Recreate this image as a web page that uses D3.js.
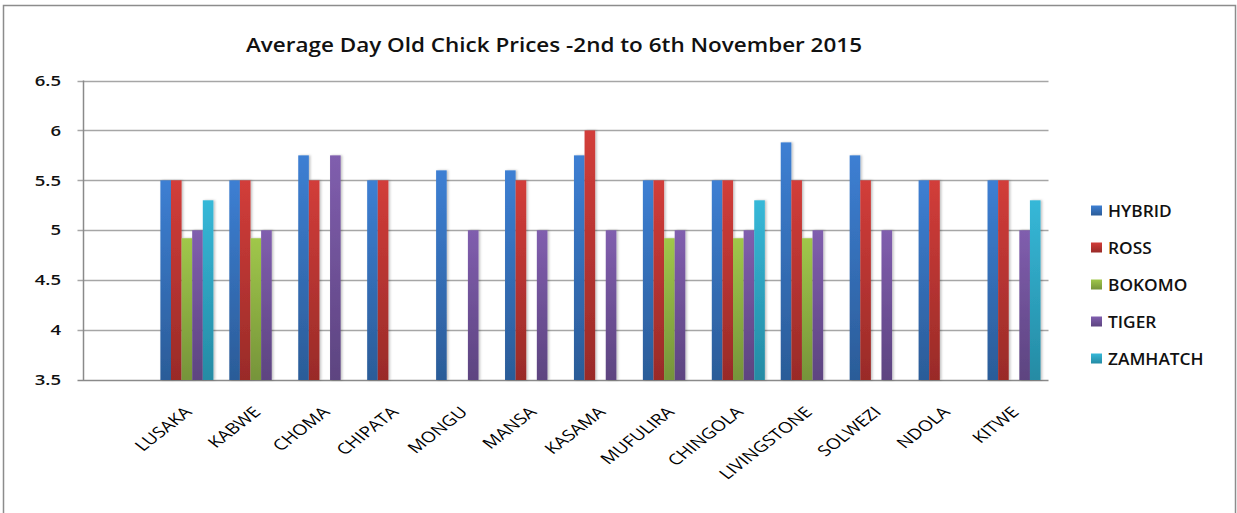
<!DOCTYPE html>
<html>
<head>
<meta charset="utf-8">
<script src="https://cdn.jsdelivr.net/npm/d3@7"></script>
<style>
  body { margin: 0; background: #fff; }
  svg { display: block; font-family: "Open Sans", "DejaVu Sans", sans-serif; }
</style>
</head>
<body>
<div id="chart"></div>
<script>
// Chart data (first category is an empty slot, as in the original)
const cities = ['', 'LUSAKA', 'KABWE', 'CHOMA', 'CHIPATA', 'MONGU', 'MANSA', 'KASAMA',
    'MUFULIRA', 'CHINGOLA', 'LIVINGSTONE', 'SOLWEZI', 'NDOLA', 'KITWE'];
const seriesNames = ['HYBRID', 'ROSS', 'BOKOMO', 'TIGER', 'ZAMHATCH'];
const hybrid   = [null, 5.5, 5.5, 5.75, 5.5, 5.6, 5.6, 5.75, 5.5, 5.5, 5.88, 5.75, 5.5, 5.5];
const ross     = [null, 5.5, 5.5, 5.5, 5.5, null, 5.5, 6, 5.5, 5.5, 5.5, 5.5, 5.5, 5.5];
const bokomo   = [null, 4.92, 4.92, null, null, null, null, null, 4.92, 4.92, 4.92, null, null, null];
const tiger    = [null, 5, 5, 5.75, null, 5, 5, 5, 5, 5, 5, 5, null, 5];
const zamhatch = [null, 5.3, null, null, null, null, null, null, null, 5.3, null, null, null, 5.3];
const yTicks = [3.5, 4, 4.5, 5, 5.5, 6, 6.5];

const seriesValues = [hybrid, ross, bokomo, tiger, zamhatch];
const colors = [
    ['#3d7fd3', '#2b5c98'],
    ['#d23d3a', '#992b28'],
    ['#a0c74a', '#76943a'],
    ['#805eae', '#5d4480'],
    ['#36b8d8', '#258ba4']
];

const width = 1237, height = 513;
const plot = { left: 83.5, right: 1048.5, top: 80.5, bottom: 380 };
const stretch = 1.28; // the original picture is wider than it is tall

const svg = d3.select('#chart')
    .append('svg')
    .attr('width', width)
    .attr('height', height);

const defs = svg.append('defs');
colors.forEach((c, i) => {
    const g = defs.append('linearGradient')
        .attr('id', 'grad' + i)
        .attr('x1', 0).attr('y1', 0).attr('x2', 0).attr('y2', 1);
    g.append('stop').attr('offset', '0%').attr('stop-color', c[0]);
    g.append('stop').attr('offset', '100%').attr('stop-color', c[1]);
});
defs.append('filter')
    .attr('id', 'shadow')
    .attr('x', '-50%').attr('y', '-10%').attr('width', '200%').attr('height', '120%')
    .append('feDropShadow')
    .attr('dx', 1.5).attr('dy', 0).attr('stdDeviation', 1)
    .attr('flood-color', '#000').attr('flood-opacity', 0.25);

// Outer chart frame
svg.append('rect')
    .attr('x', 3.5).attr('y', 5.5)
    .attr('width', 1232).attr('height', 520)
    .attr('fill', 'none')
    .attr('stroke', '#8c8c8c')
    .attr('stroke-width', 1.5);

// Title
svg.append('text')
    .attr('x', 246).attr('y', 52)
    .attr('font-size', 19)
    .attr('font-weight', 600)
    .attr('fill', '#111')
    .attr('textLength', 616)
    .attr('lengthAdjust', 'spacingAndGlyphs')
    .text('Average Day Old Chick Prices -2nd to 6th November 2015');

const x = d3.scaleBand()
    .domain(cities.map((d, i) => i))
    .range([plot.left, plot.right])
    .paddingInner(0)
    .paddingOuter(0);

const x1 = d3.scaleBand()
    .domain(seriesNames)
    .range([0, x.bandwidth()])
    .paddingOuter(0.75)
    .paddingInner(0);

const y = d3.scaleLinear()
    .domain([3.5, 6.5])
    .range([plot.bottom, plot.top]);

// Grid lines
svg.append('g')
    .selectAll('line')
    .data(yTicks)
    .enter()
    .append('line')
    .attr('x1', plot.left - 6)
    .attr('x2', plot.right)
    .attr('y1', d => Math.round(y(d)) + 0.5)
    .attr('y2', d => Math.round(y(d)) + 0.5)
    .attr('stroke', d => d === 3.5 ? '#8a8a8a' : '#a6a6a6')
    .attr('stroke-width', 1.5);

// Y axis line
svg.append('line')
    .attr('x1', plot.left).attr('x2', plot.left)
    .attr('y1', plot.top).attr('y2', plot.bottom)
    .attr('stroke', '#8a8a8a')
    .attr('stroke-width', 1.5);

// Y tick labels
svg.append('g')
    .selectAll('text')
    .data(yTicks)
    .enter()
    .append('text')
    .attr('transform', d => `translate(61, ${y(d)}) scale(${stretch}, 1)`)
    .attr('dy', '0.36em')
    .attr('text-anchor', 'end')
    .attr('font-size', 14.5)
    .attr('font-weight', 600)
    .attr('fill', '#111')
    .text(d => d);

// Bars
seriesValues.forEach((values, s) => {
    svg.append('g')
        .attr('filter', 'url(#shadow)')
        .selectAll('rect')
        .data(values.map((v, i) => ({ i, v })).filter(d => d.v !== null))
        .enter()
        .append('rect')
        .attr('x', d => x(d.i) + x1(seriesNames[s]))
        .attr('width', x1.bandwidth())
        .attr('y', d => y(d.v))
        .attr('height', d => y(3.5) - y(d.v))
        .attr('fill', 'url(#grad' + s + ')');
});

// X labels
svg.append('g')
    .selectAll('text')
    .data(cities.map((c, i) => ({ c, i })).filter(d => d.c !== ''))
    .enter()
    .append('text')
    .attr('transform', d => `translate(${x(d.i) + x.bandwidth() / 2 + 6}, 413) scale(${stretch}, 1) rotate(-45)`)
    .attr('text-anchor', 'end')
    .attr('font-size', 15)
    .attr('fill', '#000')
    .text(d => d.c);

// Legend
const legend = svg.append('g')
    .selectAll('g')
    .data(seriesNames)
    .enter()
    .append('g')
    .attr('transform', (d, i) => `translate(1091, ${211 + i * 37})`);

legend.append('rect')
    .attr('x', 0).attr('y', -5.5)
    .attr('width', 11).attr('height', 10)
    .attr('fill', (d, i) => `url(#grad${i})`);

legend.append('text')
    .attr('transform', 'translate(17, 0) scale(1.05, 1)')
    .attr('dy', '0.36em')
    .attr('font-size', 16.5)
    .attr('font-weight', 600)
    .attr('fill', '#111')
    .text(d => d);
</script>
</body>
</html>
